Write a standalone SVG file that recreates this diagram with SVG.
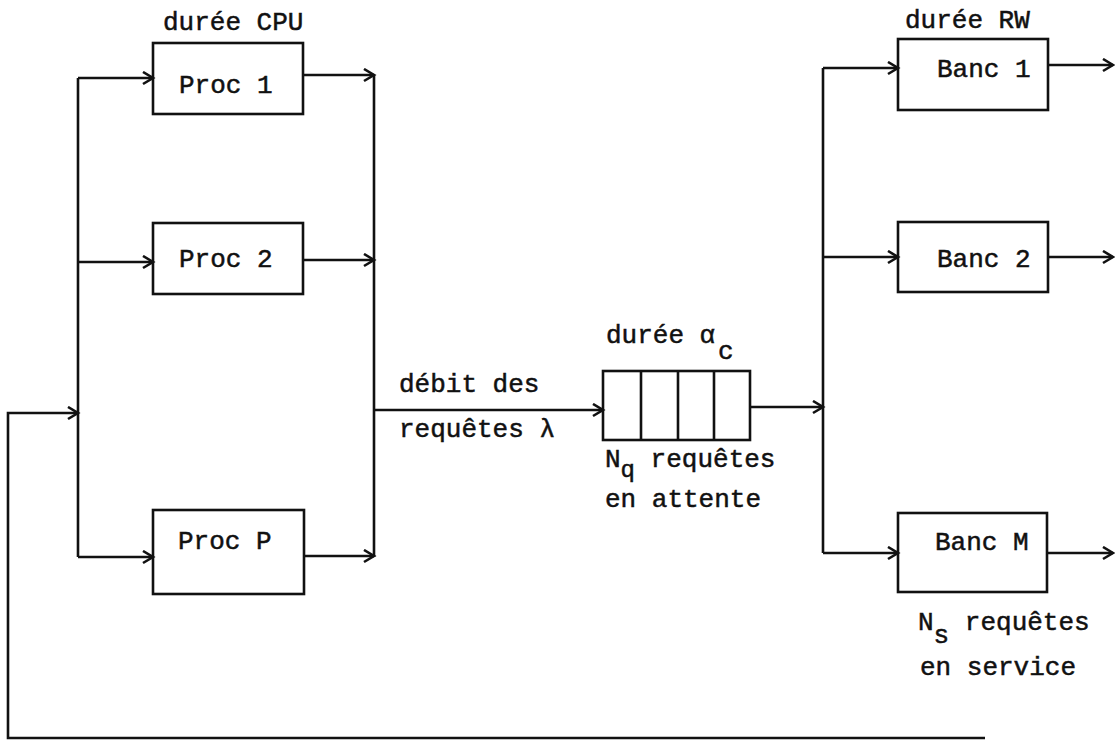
<svg xmlns="http://www.w3.org/2000/svg" width="1115" height="740" viewBox="0 0 1115 740">
<defs>
<style>
.box{fill:none;stroke:#111;stroke-width:2.6}
.ln{fill:none;stroke:#111;stroke-width:2.6;stroke-linejoin:miter}
.arr{marker-end:url(#ah)}
text{font-family:"Liberation Mono","Courier New",monospace;font-size:26px;fill:#111;stroke:#111;stroke-width:0.5}
.sub{font-size:24px}
</style>
<marker id="ah" markerUnits="userSpaceOnUse" markerWidth="16" markerHeight="16" refX="12" refY="7" orient="auto">
<path d="M2,1 L12,7 L2,13" fill="none" stroke="#111" stroke-width="2.6"/>
</marker>
</defs>
<rect width="1115" height="740" fill="#fff"/>

<g id="connectors">
<path class="ln" d="M78,78 V557"/>
<path class="ln arr" d="M78,78 H153"/>
<path class="ln arr" d="M78,262 H153"/>
<path class="ln arr" d="M78,557 H153"/>
<path class="ln arr" d="M985,738 H8 V413 H78"/>
<path class="ln" d="M374,75 V557"/>
<path class="ln arr" d="M303,75 H374"/>
<path class="ln arr" d="M303,260 H374"/>
<path class="ln arr" d="M304,556 H374"/>
<path class="ln arr" d="M374,410 H603"/>
<path class="ln arr" d="M750,407 H823"/>
<path class="ln" d="M823,68 V553"/>
<path class="ln arr" d="M823,68 H898"/>
<path class="ln arr" d="M823,257 H898"/>
<path class="ln arr" d="M823,553 H898"/>
<path class="ln arr" d="M1048,65 H1113"/>
<path class="ln arr" d="M1048,257 H1113"/>
<path class="ln arr" d="M1047,553 H1113"/>
</g>

<g id="proc1">
<rect class="box" x="153" y="43" width="150" height="71"/>
<text x="179" y="93">Proc 1</text>
<text x="163" y="30">durée CPU</text>
</g>
<g id="proc2">
<rect class="box" x="153" y="223" width="150" height="71"/>
<text x="179" y="267">Proc 2</text>
</g>
<g id="procP">
<rect class="box" x="153" y="510" width="151" height="84"/>
<text x="178" y="549">Proc P</text>
</g>

<g id="flow-label">
<text x="399" y="392">débit des</text>
<text x="399" y="437">requêtes λ</text>
</g>

<g id="queue">
<rect class="box" x="603" y="371" width="147" height="69"/>
<path class="ln" d="M641,371 V440 M678,371 V440 M714,371 V440"/>
<text x="606" y="343">durée α<tspan x="718" y="359">c</tspan></text>
<text x="605" y="467">N<tspan class="sub" dy="10">q</tspan><tspan dy="-10"> requêtes</tspan></text>
<text x="605" y="507">en attente</text>
</g>

<g id="banc1">
<rect class="box" x="898" y="39" width="150" height="71"/>
<text x="937" y="77">Banc 1</text>
<text x="905" y="28">durée RW</text>
</g>
<g id="banc2">
<rect class="box" x="898" y="222" width="150" height="70"/>
<text x="937" y="267">Banc 2</text>
</g>
<g id="bancM">
<rect class="box" x="898" y="513" width="149" height="79"/>
<text x="935" y="550">Banc M</text>
<text x="918" y="630">N<tspan dy="13">s</tspan><tspan dy="-13"> requêtes</tspan></text>
<text x="920" y="675">en service</text>
</g>
</svg>
